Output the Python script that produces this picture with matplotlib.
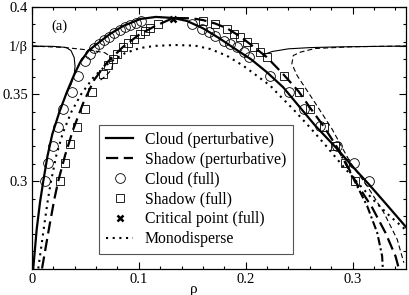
import numpy as np
import matplotlib
matplotlib.use('Agg')
import matplotlib.pyplot as plt
from matplotlib.ticker import FixedLocator, MultipleLocator

plt.rcParams['font.family'] = ['Liberation Serif', 'DejaVu Serif']
plt.rcParams['mathtext.fontset'] = 'stix'

inv_beta = 0.3776

# Cloud (perturbative) - thick solid
cloud_x = [0.0012, 0.0044, 0.0075, 0.0106, 0.0145, 0.0190, 0.0255, 0.0325, 0.0390, 0.045, 0.0528,
           0.0606, 0.0730, 0.0853, 0.1012, 0.1160, 0.1321, 0.145, 0.160, 0.175, 0.190, 0.205,
           0.220, 0.235, 0.250, 0.265, 0.285, 0.300, 0.315, 0.330, 0.352]
cloud_y = [0.2502, 0.2724, 0.2879, 0.3002, 0.3145, 0.3270, 0.3395, 0.3510, 0.3605, 0.3682, 0.3749,
           0.3787, 0.3845, 0.3891, 0.3931, 0.3943, 0.3937, 0.3920, 0.3878, 0.3822, 0.3760, 0.3700,
           0.3625, 0.3540, 0.3430, 0.3320, 0.3190, 0.3085, 0.2985, 0.2880, 0.2724]

# Shadow (perturbative) - long dashes
shadow_x = [0.0094, 0.0165, 0.0210, 0.0245, 0.0310, 0.0387, 0.048, 0.058, 0.070, 0.085, 0.100, 0.115, 0.1321,
            0.150, 0.160, 0.1715, 0.1825, 0.195, 0.2074, 0.220, 0.2355, 0.2496, 0.2605, 0.273,
            0.284, 0.2933, 0.3043, 0.3184, 0.3308, 0.3402, 0.3433]
shadow_y = [0.2500, 0.2750, 0.2900, 0.3000, 0.3150, 0.3300, 0.3450, 0.3580, 0.3680, 0.3770, 0.3840, 0.3890, 0.3937,
            0.3935, 0.3925, 0.3905, 0.3878, 0.3830, 0.3772, 0.3711, 0.3612, 0.3515, 0.3420, 0.3315,
            0.3210, 0.3110, 0.2983, 0.2849, 0.2705, 0.2571, 0.2500]

# extra dash-dot branch near the lower right
dashdot_x = [0.285, 0.298, 0.3137, 0.3231, 0.3277, 0.3283]
dashdot_y = [0.3200, 0.3050, 0.2858, 0.2705, 0.2571, 0.2500]

# thin solid branches ending at 1/beta
thin_solid_left_x = [0.0, 0.020, 0.032, 0.0365, 0.0395, 0.0403, 0.0395, 0.0365, 0.0325]
thin_solid_left_y = [0.3776, 0.3774, 0.3768, 0.3750, 0.3710, 0.3660, 0.3610, 0.3555, 0.3510]
thin_solid_right_x = [0.2160, 0.2250, 0.2400, 0.2600, 0.2850, 0.3200, 0.3520]
thin_solid_right_y = [0.3725, 0.3745, 0.3760, 0.3767, 0.3771, 0.3774, 0.3776]

# thin dashed branches ending at 1/beta
thin_dash_left_x = [0.0, 0.030, 0.055, 0.068, 0.0731, 0.0759, 0.0745, 0.0700, 0.0640]
thin_dash_left_y = [0.3776, 0.3768, 0.3752, 0.3738, 0.3718, 0.3680, 0.3642, 0.3610, 0.3580]
thin_dash_right_x = [0.352, 0.300, 0.265, 0.2512, 0.2446, 0.2432, 0.2481, 0.2650, 0.2809,
                     0.298, 0.3137, 0.3293, 0.3418, 0.3480]
thin_dash_right_y = [0.3776, 0.3772, 0.3762, 0.3741, 0.3722, 0.3674, 0.3607, 0.3450, 0.3299,
                     0.3107, 0.2973, 0.2820, 0.2667, 0.2533]

# Monodisperse - dotted
mono_x = [0.0059, 0.0115, 0.0150, 0.0178, 0.0228, 0.0290, 0.0370, 0.0460, 0.0580, 0.0720, 0.0870,
          0.1012, 0.1153, 0.134, 0.1528, 0.1668, 0.1825, 0.1977, 0.2106, 0.2231, 0.2305, 0.245,
          0.260, 0.275, 0.290, 0.305, 0.320, 0.335, 0.352]
mono_y = [0.2500, 0.2750, 0.2900, 0.3000, 0.3150, 0.3280, 0.3400, 0.3500, 0.3600, 0.3680, 0.3735,
          0.3765, 0.3777, 0.3782, 0.3778, 0.3759, 0.3720, 0.3663, 0.3605, 0.3548, 0.3500, 0.3410,
          0.3310, 0.3205, 0.3095, 0.2990, 0.2890, 0.2800, 0.2710]

# Cloud (full) - circles
circ_x = [0.0122, 0.0153, 0.0200, 0.0247, 0.0294, 0.0372, 0.0434, 0.0500, 0.0540, 0.0580, 0.0625,
          0.0670, 0.0720, 0.0770, 0.0820, 0.0870, 0.0920, 0.0970, 0.1020,
          0.1497, 0.1590, 0.1652, 0.1715, 0.1793, 0.1856, 0.1918, 0.1980, 0.2027,
          0.2231, 0.2402, 0.2545, 0.2695, 0.2856, 0.3015, 0.3152]
circ_y = [0.3002, 0.3107, 0.3203, 0.3309, 0.3414, 0.3510, 0.3605, 0.3690, 0.3730, 0.3762, 0.3787,
          0.3808, 0.3830, 0.3850, 0.3867, 0.3883, 0.3898, 0.3911, 0.3922,
          0.3902, 0.3874, 0.3855, 0.3835, 0.3806, 0.3787, 0.3768, 0.3740, 0.3711,
          0.3605, 0.3510, 0.3414, 0.3318, 0.3203, 0.3107, 0.3002]

# Shadow (full) - squares
sq_x = [0.0262, 0.0309, 0.0356, 0.0419, 0.0497, 0.0559, 0.0668, 0.0710, 0.0755, 0.0800, 0.0856,
        0.0900, 0.0955, 0.1010, 0.1060, 0.1106, 0.1184,
        0.1605, 0.1715, 0.1825, 0.1887, 0.1949, 0.2012, 0.2074, 0.2137, 0.2200,
        0.2355, 0.2496, 0.2605, 0.2730, 0.2840, 0.2933, 0.3027]
sq_y = [0.3002, 0.3107, 0.3213, 0.3309, 0.3414, 0.3510, 0.3615, 0.3665, 0.3700, 0.3733, 0.3768,
        0.3792, 0.3818, 0.3845, 0.3862, 0.3878, 0.3902,
        0.3921, 0.3902, 0.3874, 0.3845, 0.3826, 0.3797, 0.3768, 0.3740, 0.3711,
        0.3605, 0.3510, 0.3414, 0.3309, 0.3203, 0.3107, 0.3002]

crit_x = [0.1321]
crit_y = [0.3930]

fig = plt.figure(figsize=(4.09, 2.95), dpi=100)
ax = fig.add_axes([0.0782, 0.0898, 0.9144, 0.8865])

ax.plot(thin_solid_left_x, thin_solid_left_y, color='k', lw=0.8)
ax.plot(thin_solid_right_x, thin_solid_right_y, color='k', lw=0.8)
ax.plot(thin_dash_left_x, thin_dash_left_y, color='k', lw=0.8, dashes=(4.5, 2.7))
ax.plot(thin_dash_right_x, thin_dash_right_y, color='k', lw=0.8, dashes=(4.5, 2.7))
ax.plot(dashdot_x, dashdot_y, color='k', lw=1.5, dashes=(4, 1.5, 1, 1.5))

ax.plot(cloud_x, cloud_y, color='k', lw=1.6, label='Cloud (perturbative)')
ax.plot(shadow_x, shadow_y, color='k', lw=1.6, dashes=(5.5, 2.5), label='Shadow (perturbative)')
ax.plot(circ_x, circ_y, ls='none', marker='o', ms=7, mfc='none', mec='k', mew=0.6, label='Cloud (full)')
ax.plot(sq_x, sq_y, ls='none', marker='s', ms=5.5, mfc='none', mec='k', mew=0.6, label='Shadow (full)')
ax.plot(crit_x, crit_y, ls='none', marker='x', ms=5, mec='k', mew=1.8, label='Critical point (full)')
ax.plot(mono_x, mono_y, color='k', lw=1.5, dashes=(1, 2.2), label='Monodisperse')

ax.set_xlim(0, 0.35)
ax.set_ylim(0.25, 0.4)

ax.xaxis.set_major_locator(FixedLocator([0, 0.1, 0.2, 0.3]))
ax.xaxis.set_minor_locator(MultipleLocator(0.02))
ax.set_xticklabels(['0', '0.1', '0.2', '0.3'])
ax.yaxis.set_major_locator(FixedLocator([0.3, 0.35, inv_beta, 0.4]))
ax.yaxis.set_minor_locator(FixedLocator([0.26, 0.27, 0.28, 0.29, 0.31, 0.32, 0.33, 0.34,
                                         0.36, 0.37, 0.38, 0.39]))
ax.set_yticklabels(['0.3', '0.35', '1/β', '0.4'])
ax.tick_params(which='both', direction='in', top=True, right=True, labelsize=10.5, pad=3)
ax.tick_params(which='major', length=5, width=0.8)
ax.tick_params(which='minor', length=2.5, width=0.8)
for s in ax.spines.values():
    s.set_linewidth(0.9)

ax.set_xlabel('ρ', fontsize=11)
ax.xaxis.set_label_coords(0.432, -0.055)
ax.text(0.0253, 0.3888, '(a)', fontsize=10.5, ha='center', va='center')

leg = ax.legend(loc='lower left', bbox_to_anchor=(0.18, 0.054), borderaxespad=0,
                fontsize=11.3, handlelength=1.7, handletextpad=0.75, labelspacing=0.25,
                borderpad=0.45, fancybox=False, framealpha=1, edgecolor='#555555')
leg.get_frame().set_linewidth(0.8)

fig.savefig('out.png', dpi=100)
